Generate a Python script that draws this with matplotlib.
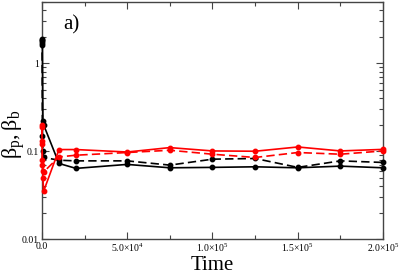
import matplotlib
matplotlib.use('Agg')
import matplotlib.pyplot as plt
import matplotlib.ticker as ticker

# time samples (first few are crowded near t=0)
time = [0, 100, 300, 600, 1000, 10000, 20000, 50000, 75000,
        100000, 125000, 150000, 175000, 200000]

# black solid / black dashed / red solid / red dashed
black_solid = [1.9, 1.8, 1.6, 0.22, 0.20, 0.0726, 0.0638, 0.0708, 0.0648,
               0.0655, 0.0665, 0.0648, 0.0677, 0.0648]
black_dashed = [1.85, 1.7, 0.15, 0.10, 0.085, 0.079, 0.0777, 0.0777, 0.0695,
                0.0812, 0.0827, 0.0655, 0.0777, 0.0745]
red_solid = [0.20, 0.12, 0.07, 0.05, 0.035, 0.1045, 0.1045, 0.098, 0.110,
             0.1008, 0.100, 0.1118, 0.1008, 0.105]
red_dashed = [0.19, 0.13, 0.08, 0.06, 0.058, 0.0862, 0.0901, 0.0967, 0.1026,
              0.0925, 0.0849, 0.0967, 0.0925, 0.1008]

xticks = [0, 50000, 100000, 150000, 200000]
xtick_labels = ['0.0', r'5.0$\times$10$^4$', r'1.0$\times$10$^5$',
                r'1.5$\times$10$^5$', r'2.0$\times$10$^5$']

plt.rcParams['font.family'] = 'Liberation Serif'
plt.rcParams['mathtext.fontset'] = 'custom'
plt.rcParams['mathtext.rm'] = 'Liberation Serif'
plt.rcParams['mathtext.it'] = 'Liberation Serif'
plt.rcParams['mathtext.default'] = 'regular'

fig = plt.figure(figsize=(3.99, 2.79), dpi=100)
ax = fig.add_axes([0.105, 0.143, 0.855, 0.85])

ms = 3.2
lw = 1.2
ax.plot(time, black_solid, '-o', color='black', lw=lw, ms=ms, clip_on=False, zorder=3)
ax.plot(time, black_dashed, '--o', color='black', lw=lw, ms=ms, dashes=(5, 2.5),
        clip_on=False, zorder=3)
ax.plot(time, red_solid, '-o', color='red', lw=lw, ms=ms, clip_on=False, zorder=3)
ax.plot(time, red_dashed, '--o', color='red', lw=lw, ms=ms, dashes=(5, 2.5),
        clip_on=False, zorder=3)

ax.set_yscale('log')
ax.set_ylim(0.01, 5)
ax.set_xlim(0, 200000)

ax.set_xticks(xticks)
ax.set_xticklabels(xtick_labels)
ax.xaxis.set_minor_locator(ticker.MultipleLocator(25000))
ax.set_yticks([0.01, 0.1, 1])
ax.set_yticklabels(['0.01', '0.1', '1'])
ax.yaxis.set_minor_locator(ticker.LogLocator(base=10, subs=range(2, 10)))
ax.yaxis.set_minor_formatter(ticker.NullFormatter())

ax.tick_params(which='both', direction='in', top=True, right=True,
               labelsize=7, colors='#444444', labelcolor='black', pad=2)
ax.tick_params(which='major', length=5, width=0.8)
ax.tick_params(which='minor', length=3, width=0.8)
for s in ax.spines.values():
    s.set_color('#444444')
    s.set_linewidth(1.0)

ax.set_xlabel('Time', fontsize=15, labelpad=1)
ax.set_ylabel(r'$\beta_p, \beta_b$', fontsize=16)
ax.yaxis.set_label_coords(-0.045, 0.44)
ax.text(0.085, 0.905, 'a)', transform=ax.transAxes, fontsize=15,
        ha='center', va='center')

fig.savefig('out.png', dpi=100)
